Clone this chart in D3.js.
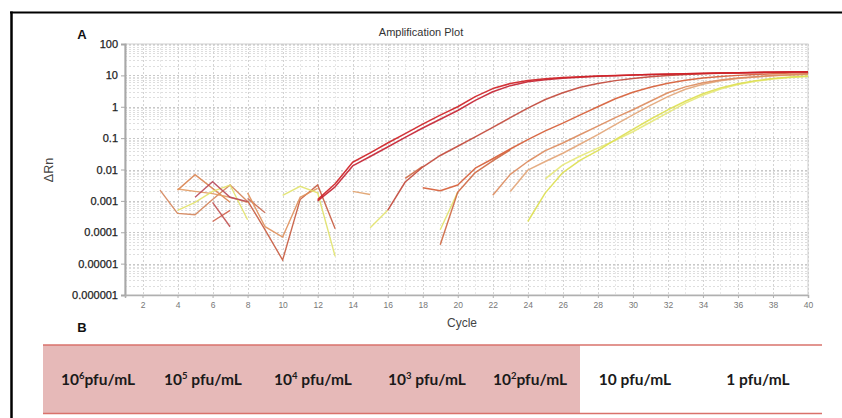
<!DOCTYPE html>
<html><head><meta charset="utf-8">
<script src="https://cdn.jsdelivr.net/npm/d3@7"></script>
<style>
body{margin:0;background:#fff;}
svg{display:block;}
</style></head><body>
<svg id="c" width="842" height="418"></svg>
<script>
// ---------------- DATA ----------------
const cycleDomain = [1, 40];
const xTickValues = d3.range(2, 41, 2);
const yTickValues = [100, 10, 1, 0.1, 0.01, 0.001, 0.0001, 0.00001, 0.000001];
const yTickLabels = ["100", "10", "1", "0.1", "0.01", "0.001", "0.0001", "0.00001", "0.000001"];

// amplification curves (ΔRn per cycle, starting at the given cycle)
const red1Start = 12;
const red1 = [0.0011,0.0035,0.017,0.034,0.07,0.14,0.28,0.54,1.0,2.1,3.8,5.5,6.9,7.8,8.5,9.0,9.5,9.9,10.3,10.7,11.0,11.3,11.6,11.9,12.1,12.4,12.6,12.8,13.0];
const red2Start = 12;
const red2 = [0.001,0.0028,0.013,0.026,0.052,0.105,0.21,0.4,0.76,1.6,3.0,4.7,6.3,7.3,8.1,8.7,9.3,9.8,10.2,10.6,10.9,11.2,11.5,11.8,12.0,12.3,12.5,12.7,12.9];
const s2Start = 16;
const s2 = [0.0005,0.004,0.012,0.028,0.055,0.11,0.22,0.45,0.9,1.7,2.8,4.2,5.5,6.8,8.0,9.0,9.9,10.6,11.2,11.7,12.1,12.4,12.6,12.8,13.0];
const s2bStart = 17;
const s2b = [0.0052,0.0125];
const s3Start = 18;
const s3 = [0.0026,0.0021,0.0032,0.011,0.022,0.045,0.09,0.17,0.3,0.55,1.0,1.8,2.9,4.2,5.6,7.0,8.2,9.2,10.0,10.7,11.3,11.8,12.2];
const s3bStart = 19;
const s3b = [0.00004,0.0019,0.008,0.019,0.042];
const tan1Start = 22;
const tan1 = [0.0015,0.007,0.018,0.04,0.07,0.13,0.24,0.45,0.8,1.5,2.8,4.3,5.8,7.1,8.2,9.1,9.9,10.5,11.0];
const tan2Start = 23;
const tan2 = [0.002,0.0095,0.018,0.033,0.065,0.13,0.27,0.55,1.1,2.1,3.6,5.2,6.7,7.9,8.9,9.7,10.3,10.8];
const yel1Start = 24;
const yel1 = [0.00022,0.0018,0.008,0.02,0.04,0.09,0.19,0.4,0.8,1.5,2.6,4.0,5.4,6.8,7.9,8.8,9.5];
const yel2Start = 25;
const yel2 = [0.005,0.014,0.027,0.048,0.085,0.16,0.32,0.65,1.3,2.3,3.7,5.1,6.5,7.6,8.5,9.2];

// baseline noise fragments
const noiseStarts = [3, 4, 4, 4, 5, 6, 6, 8, 8, 8, 10, 14, 15, 19];
const noiseValues = [
  [0.0022,0.0004,0.00036,0.0011,0.0032,0.00095],
  [0.0022,0.0068,0.0025,0.0009],
  [0.0024,0.002,0.0017,0.0013,0.0009],
  [0.0005,0.0009,0.002,0.0032,0.00025],
  [0.0013,0.0041,0.0013,0.00095],
  [0.00022,0.0005],
  [0.0009,0.00015],
  [0.0012,0.00042],
  [0.001,0.00012,0.000013,0.0011,0.0032,0.00013],
  [0.0018,0.00015,0.00007,0.0013,0.0025],
  [0.0015,0.0029,0.0018,0.000017],
  [0.002,0.0016],
  [0.00014,0.0005],
  [0.00012,0.0019]
];

// table (panel B)
const concBase = ["10","10","10","10","10","10","1"];
const concExp  = ["6","5","4","3","2","",""];
const concUnit = ["pfu/mL"," pfu/mL"," pfu/mL"," pfu/mL","pfu/mL"," pfu/mL"," pfu/mL"];

// ---------------- STYLE / LAYOUT ----------------
const curveColors = {red1:"#cf2226", red2:"#c42434", s2:"#c24a3c", s2b:"#d06a44", s3:"#d65e38", s3b:"#cf6a45",
  tan1:"#dc8c60", tan2:"#e3a679", yel1:"#dde052", yel2:"#e6e879"};
const noiseColors = ["#d4845a","#d9824e","#e29a62","#e2e26a","#b8485a","#d0604a","#c05050","#c86850",
  "#c65a3e","#e0905a","#e0e26a","#e0a06a","#e2e26a","#e2e26a"];
const labelCenters = [98, 203, 313, 427, 530, 635, 758];

const svg = d3.select("#c");
const plot = {left:125, right:808, top:44, bottom:295};

const x = d3.scaleLinear().domain(cycleDomain).range([plot.left, plot.right]);
const y = d3.scaleLog().domain([0.000001, 100]).range([plot.bottom, plot.top]);

// border of the figure
svg.append("line").attr("x1",10).attr("x2",842).attr("y1",12.5).attr("y2",12.5)
  .attr("stroke","#000").attr("stroke-width",2);
svg.append("line").attr("x1",11.5).attr("x2",11.5).attr("y1",11.5).attr("y2",418)
  .attr("stroke","#000").attr("stroke-width",2.5);

// grid
const g = svg.append("g");
const minor = [];
for (let e=-6; e<2; e++) for (let k=2;k<=9;k++) minor.push(k*Math.pow(10,e));
g.selectAll(".hmin").data(minor).join("line")
  .attr("x1",plot.left).attr("x2",plot.right)
  .attr("y1",d=>Math.round(y(d))+0.5).attr("y2",d=>Math.round(y(d))+0.5)
  .attr("stroke","#dedede").attr("stroke-dasharray","2,2").attr("stroke-width",1);
g.selectAll(".vmin").data(d3.range(1,41)).join("line")
  .attr("y1",plot.top).attr("y2",plot.bottom)
  .attr("x1",d=>Math.round(x(d))+0.5).attr("x2",d=>Math.round(x(d))+0.5)
  .attr("stroke",d=>d%2===0?"#d3d3d3":"#e8e8e8").attr("stroke-dasharray","2,2");
g.selectAll(".hmaj").data(yTickValues).join("line")
  .attr("x1",plot.left).attr("x2",plot.right)
  .attr("y1",d=>Math.round(y(d))+0.5).attr("y2",d=>Math.round(y(d))+0.5)
  .attr("stroke","#c8c8c8").attr("stroke-dasharray","2,2");
// frame
svg.append("rect").attr("x",plot.left).attr("y",plot.top)
  .attr("width",plot.right-plot.left).attr("height",plot.bottom-plot.top)
  .attr("fill","none").attr("stroke","#cfcfcf");

// axes
const yAxis = d3.axisLeft(y).tickValues(yTickValues)
  .tickFormat((d,i)=>yTickLabels[i]).tickSize(4).tickPadding(3);
const ya = svg.append("g").attr("transform",`translate(${plot.left},0)`).call(yAxis);
ya.select(".domain").attr("stroke","#a8a8a8").attr("stroke-width",2);
ya.selectAll(".tick line").attr("stroke","#a8a8a8");
ya.selectAll("text").attr("font-family","Liberation Sans, Arial, sans-serif")
  .attr("font-size",11).attr("fill","#222").attr("stroke","#222").attr("stroke-width",0.25);

const xAxis = d3.axisBottom(x).tickValues(xTickValues).tickSize(3).tickPadding(4);
const xa = svg.append("g").attr("transform",`translate(0,${plot.bottom})`).call(xAxis);
xa.select(".domain").attr("stroke","#b0b0b0").attr("stroke-width",1.5);
xa.selectAll(".tick line").attr("stroke","#b0b0b0");
xa.selectAll("text").attr("font-family","Liberation Sans, Arial, sans-serif")
  .attr("font-size",8.5).attr("fill","#777");

// curves
const line = d3.line().x(d=>x(d.c)).y(d=>y(d.v));
const toPts = (start, vals) => vals.map((v,i)=>({c:start+i, v:v}));

const noiseG = svg.append("g");
noiseValues.forEach((vals,i)=>{
  noiseG.append("path").attr("d",line(toPts(noiseStarts[i],vals)))
    .attr("fill","none").attr("stroke",noiseColors[i]).attr("stroke-width",1.4)
    .attr("stroke-opacity",0.9);
});

const curves = [
  ["yel2",yel2Start,yel2],["yel1",yel1Start,yel1],["tan2",tan2Start,tan2],["tan1",tan1Start,tan1],
  ["s3b",s3bStart,s3b],["s3",s3Start,s3],["s2b",s2bStart,s2b],["s2",s2Start,s2],
  ["red2",red2Start,red2],["red1",red1Start,red1]
];
const cg = svg.append("g");
curves.forEach(([k,s,vals])=>{
  cg.append("path").attr("d",line(toPts(s,vals)))
    .attr("fill","none").attr("stroke",curveColors[k]).attr("stroke-width",1.5)
    .attr("stroke-linejoin","round").attr("stroke-opacity",0.92);
});

// texts
const sans = "Liberation Sans, Arial, sans-serif";
svg.append("text").attr("x",421).attr("y",36).attr("text-anchor","middle")
  .attr("font-family",sans).attr("font-size",11).attr("fill","#333").text("Amplification Plot");
svg.append("text").attr("x",82).attr("y",39).attr("text-anchor","middle")
  .attr("font-family",sans).attr("font-weight","bold").attr("font-size",13).attr("fill","#111").text("A");
svg.append("text").attr("x",82).attr("y",332).attr("text-anchor","middle")
  .attr("font-family",sans).attr("font-weight","bold").attr("font-size",13).attr("fill","#111").text("B");
svg.append("text").attr("x",462).attr("y",327).attr("text-anchor","middle")
  .attr("font-family",sans).attr("font-size",12).attr("fill","#444").text("Cycle");
svg.append("text").attr("transform","translate(53,170) rotate(-90)").attr("text-anchor","middle")
  .attr("font-family",sans).attr("font-size",12.5).attr("fill","#444").text("ΔRn");

// table panel B
const tableTop = 345, tableBottom = 413.5, tableLeft = 43, tableRight = 822, pinkRight = 580;
svg.append("rect").attr("x",tableLeft).attr("y",tableTop).attr("width",pinkRight-tableLeft)
  .attr("height",tableBottom-tableTop).attr("fill","#e6b9b8");
[tableTop, tableBottom].forEach(yy=>{
  svg.append("line").attr("x1",tableLeft).attr("x2",tableRight).attr("y1",yy).attr("y2",yy)
    .attr("stroke","#d9726b").attr("stroke-width",1.3);
});
const tf = "Lato, Carlito, sans-serif";
concBase.forEach((b,i)=>{
  const t = svg.append("text").attr("x",labelCenters[i]).attr("y",385).attr("text-anchor","middle")
    .attr("font-family",tf).attr("font-weight","bold").attr("font-size",15.5).attr("fill","#1a1a1a");
  t.append("tspan").text(b);
  if (concExp[i]) t.append("tspan").attr("dy",-6).attr("font-size",9.5).text(concExp[i]);
  t.append("tspan").attr("dy",concExp[i]?6:0).text(concUnit[i]);
});
</script>
</body></html>
